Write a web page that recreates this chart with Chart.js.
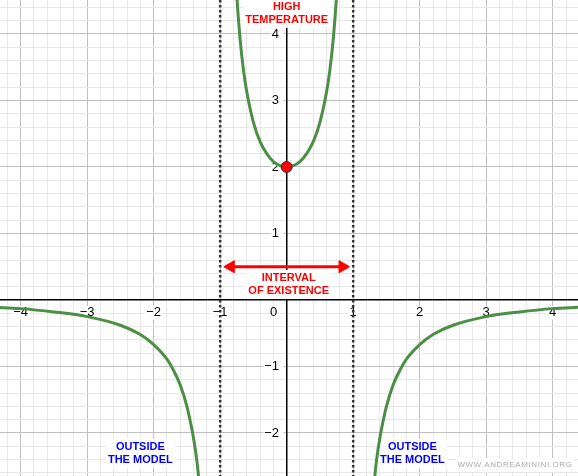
<!DOCTYPE html>
<html>
<head>
<meta charset="utf-8">
<script src="https://cdn.jsdelivr.net/npm/chart.js@4"></script>
<style>
  html, body { margin: 0; padding: 0; background: #fff; }
  #wrap { width: 578px; height: 476px; }
</style>
</head>
<body>
<div id="wrap"><canvas id="chart"></canvas></div>
<script>
"use strict";

// values
const leftX  = [-4.4, -4.0, -3.5, -3.0, -2.5, -2.2, -2.0, -1.8, -1.7, -1.6, -1.5, -1.45, -1.4, -1.35, -1.3];
const leftY  = [-0.11, -0.13, -0.18, -0.25, -0.38, -0.52, -0.67, -0.89, -1.06, -1.28, -1.6, -1.82, -2.08, -2.42, -2.9];
const upperX = [-0.78, -0.75, -0.7, -0.65, -0.6, -0.5, -0.4, -0.3, -0.2, -0.1, 0, 0.1, 0.2, 0.3, 0.4, 0.5, 0.6, 0.65, 0.7, 0.75, 0.78];
const upperY = [5.1, 4.57, 3.92, 3.46, 3.13, 2.67, 2.38, 2.2, 2.08, 2.02, 2, 2.02, 2.08, 2.2, 2.38, 2.67, 3.13, 3.46, 3.92, 4.57, 5.1];
const rightX = [1.3, 1.35, 1.4, 1.45, 1.5, 1.6, 1.7, 1.8, 2.0, 2.2, 2.5, 3.0, 3.5, 4.0, 4.4];
const rightY = [-2.9, -2.42, -2.08, -1.82, -1.6, -1.28, -1.06, -0.89, -0.67, -0.52, -0.38, -0.25, -0.18, -0.13, -0.11];
const asymptotes = [-1, 1];
const markPoint = { x: 0, y: 2 };
const arrowX = [-0.84, 0.84];
const arrowY = 0.5;

const xMin = -4.31, xMax = 4.38;
const yMin = -2.647, yMax = 4.511;

function pts(xs, ys) {
	return xs.map(function (x, i) { return { x: x, y: ys[i] }; });
}

function gridTicks(lo, hi) {
	const out = [];
	for (let i = Math.ceil(lo * 5); i <= Math.floor(hi * 5); i++) out.push({ value: i / 5 });
	return out;
}

function isMajor(v) {
	return Math.abs(v - Math.round(v)) < 1e-6;
}

function fmt(v) {
	const r = Math.round(v);
	return r < 0 ? "\u2212" + Math.abs(r) : String(r);
}

const green = "#4b8f45";
const curveStyle = { borderColor: green, borderWidth: 3, pointRadius: 0, tension: 0.4, cubicInterpolationMode: "monotone", fill: false, order: 2 };

const datasets = [];
datasets.push({
	data: [markPoint],
	showLine: false,
	pointRadius: 5.5,
	pointBackgroundColor: "#ff0000",
	pointBorderColor: "#333",
	pointBorderWidth: 1,
	order: 0
});
datasets.push({
	data: pts(arrowX, [arrowY, arrowY]),
	borderColor: "#ff0000",
	borderWidth: 3,
	pointStyle: "triangle",
	pointRadius: 7,
	pointRotation: [-90, 90],
	pointBackgroundColor: "#ff0000",
	pointBorderColor: "#ff0000",
	pointBorderWidth: 1,
	order: 1
});
datasets.push(Object.assign({ data: pts(leftX, leftY) }, curveStyle));
datasets.push(Object.assign({ data: pts(upperX, upperY) }, curveStyle));
datasets.push(Object.assign({ data: pts(rightX, rightY) }, curveStyle));
asymptotes.forEach(function (a) {
	datasets.push({
		data: [{ x: a, y: yMin - 1 }, { x: a, y: yMax + 1 }],
		borderColor: "#333",
		borderWidth: 2.5,
		borderDash: [2.5, 2.5],
		pointRadius: 0,
		order: 3
	});
});

// text notes, placed in data coordinates (each block: lines, centre, colour)
const notes = [
	{ lines: ["HIGH", "TEMPERATURE"], x: 0, y: 4.31, c: "#ff0000" },
	{ lines: ["INTERVAL", "OF EXISTENCE"], x: 0.03, y: 0.232, c: "#ff0000" },
	{ lines: ["OUTSIDE", "THE MODEL"], x: -2.2, y: -2.305, c: "#0000ff" },
	{ lines: ["OUTSIDE", "THE MODEL"], x: 1.89, y: -2.305, c: "#0000ff" }
];
const lineH = 13.5;
const noteFont = "bold 11px 'Liberation Sans', Arial, sans-serif";
const markFont = "8px 'Liberation Sans', Arial, sans-serif";

function eachNote(chart, fn) {
	const ctx = chart.ctx;
	const sx = chart.scales.x, sy = chart.scales.y;
	notes.forEach(function (n) {
		const cx = sx.getPixelForValue(n.x), cy = sy.getPixelForValue(n.y);
		const top = cy - lineH * n.lines.length / 2;
		let w = 0;
		n.lines.forEach(function (l) { w = Math.max(w, ctx.measureText(l).width); });
		fn(n, cx, top, w);
	});
}

const notesPlugin = {
	id: "notes",
	beforeDatasetsDraw: function (chart) {
		const ctx = chart.ctx;
		ctx.save();
		ctx.fillStyle = "#fff";
		ctx.font = noteFont;
		eachNote(chart, function (n, cx, top, w) {
			ctx.fillRect(cx - w / 2 - 2, top - 1, w + 4, lineH * n.lines.length + 2);
		});
		ctx.font = markFont;
		ctx.letterSpacing = "0.6px";
		const mw = ctx.measureText("WWW.ANDREAMININI.ORG").width;
		ctx.fillRect(chart.chartArea.right - 63 - mw / 2 - 2, chart.chartArea.bottom - 18, mw + 4, 14);
		ctx.restore();
	},
	afterDatasetsDraw: function (chart) {
		const ctx = chart.ctx;
		ctx.save();
		ctx.textAlign = "center";
		ctx.textBaseline = "middle";
		ctx.font = noteFont;
		eachNote(chart, function (n, cx, top) {
			ctx.fillStyle = n.c;
			n.lines.forEach(function (l, i) {
				ctx.fillText(l, cx, top + lineH * (i + 0.5));
			});
		});
		ctx.font = markFont;
		ctx.letterSpacing = "0.6px";
		ctx.fillStyle = "#aaaaaa";
		ctx.fillText("WWW.ANDREAMININI.ORG", chart.chartArea.right - 63, chart.chartArea.bottom - 11);
		ctx.restore();
	}
};

function axisOpts(min, max, where, isX) {
	return {
		type: "linear",
		min: min,
		max: max,
		position: where,
		afterBuildTicks: function (axis) { axis.ticks = gridTicks(axis.min, axis.max); },
		afterFit: function (axis) {
			axis.paddingTop = 0; axis.paddingBottom = 0;
			axis.paddingLeft = 0; axis.paddingRight = 0;
		},
		grid: {
			drawTicks: false,
			color: function (c) { return isMajor(c.tick.value) ? "#c0c0c0" : "#e8e8e8"; },
			lineWidth: 1
		},
		border: { display: true, color: "#000", width: 1.5 },
		ticks: {
			autoSkip: false,
			maxRotation: 0,
			padding: isX ? 5 : 7,
			color: "#000",
			font: { family: "'Liberation Sans', Arial, sans-serif", size: 13 },
			showLabelBackdrop: function (c) { return isMajor(c.tick.value) && Math.round(c.tick.value) !== 0; },
			backdropColor: "#fff",
			backdropPadding: isX ? { top: -1, bottom: -1, left: 1, right: 1 } : { top: -1, bottom: -1, left: 1, right: -3 },
			callback: function (v) {
				if (!isMajor(v)) return "";
				if (Math.round(v) === 0) return isX ? "0\u2003\u2003" : "";
				return isX ? fmt(v) : fmt(v) + "\u2002\u200A";
			}
		}
	};
}

new Chart(document.getElementById("chart"), {
	type: "line",
	data: { datasets: datasets },
	plugins: [notesPlugin],
	options: {
		responsive: true,
		maintainAspectRatio: false,
		animation: false,
		layout: { padding: 0, autoPadding: false },
		plugins: { legend: { display: false }, tooltip: { enabled: false } },
		scales: {
			x: axisOpts(xMin, xMax, { y: 0 }, true),
			y: axisOpts(yMin, yMax, { x: 0 }, false)
		}
	}
});
</script>
</body>
</html>
